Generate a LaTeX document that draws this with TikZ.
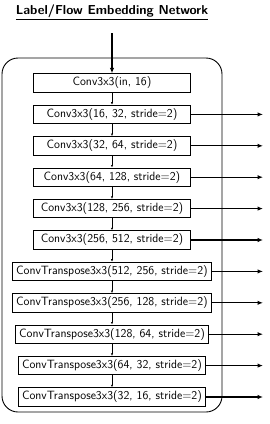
\documentclass[tikz,border=0pt]{standalone}
\usepackage{amsmath}
\usepackage{tikz}
\usetikzlibrary{arrows.meta}
\renewcommand{\familydefault}{\sfdefault}

\begin{document}
\begin{tikzpicture}[x=1pt,y=-1pt]
  \useasboundingbox (0,0) rectangle (270,424);
  \tikzset{layer/.style={draw,line width=0.9pt,minimum width=157pt,minimum height=18.5pt,inner xsep=4pt,inner ysep=1.5pt,font=\fontsize{12}{13}\selectfont},
    outarrow/.style={-{Latex[length=5.5pt,width=4.5pt]},line width=1.3pt},
    linkarrow/.style={-{Latex[length=2.5pt,width=2.2pt]},line width=0.6pt}}

% title
  \node[font=\fontsize{13}{15}\selectfont\bfseries] (title) at (112, 12) {\underline{Label/Flow Embedding Network}};

% outer frame
  \draw[line width=0.9pt, rounded corners=16pt] (2, 58) rectangle (222, 412);

% layers
  \node[layer] (c1) at (112, 83.0) {Conv3x3(in, 16)};
  \node[layer] (c2) at (112, 114.4) {Conv3x3(16, 32, stride=2)};
  \node[layer] (c3) at (112, 145.8) {Conv3x3(32, 64, stride=2)};
  \node[layer] (c4) at (112, 177.2) {Conv3x3(64, 128, stride=2)};
  \node[layer] (c5) at (112, 208.6) {Conv3x3(128, 256, stride=2)};
  \node[layer] (c6) at (112, 240.0) {Conv3x3(256, 512, stride=2)};
  \node[layer] (t1) at (112, 271.4) {ConvTranspose3x3(512, 256, stride=2)};
  \node[layer] (t2) at (112, 302.8) {ConvTranspose3x3(256, 128, stride=2)};
  \node[layer] (t3) at (112, 334.2) {ConvTranspose3x3(128, 64, stride=2)};
  \node[layer] (t4) at (112, 365.6) {ConvTranspose3x3(64, 32, stride=2)};
  \node[layer] (t5) at (112, 397.0) {ConvTranspose3x3(32, 16, stride=2)};

% input
  \coordinate (in) at (112, 33);
  \draw[outarrow] (in) -- (c1);

% links between layers
  \draw[linkarrow] (c1) -- (c2);
  \draw[linkarrow] (c2) -- (c3);
  \draw[linkarrow] (c3) -- (c4);
  \draw[linkarrow] (c4) -- (c5);
  \draw[linkarrow] (c5) -- (c6);
  \draw[linkarrow] (c6) -- (t1);
  \draw[linkarrow] (t1) -- (t2);
  \draw[linkarrow] (t2) -- (t3);
  \draw[linkarrow] (t3) -- (t4);
  \draw[linkarrow] (t4) -- (t5);

% outputs
  \coordinate (outx) at (263, 0);
  \draw[outarrow] (c2.east) -- (c2.east -| outx);
  \draw[outarrow] (c3.east) -- (c3.east -| outx);
  \draw[outarrow] (c4.east) -- (c4.east -| outx);
  \draw[outarrow] (c5.east) -- (c5.east -| outx);
  \draw[outarrow] (c6.east) -- (c6.east -| outx);
  \draw[outarrow] (t1.east) -- (t1.east -| outx);
  \draw[outarrow] (t2.east) -- (t2.east -| outx);
  \draw[outarrow] (t3.east) -- (t3.east -| outx);
  \draw[outarrow] (t4.east) -- (t4.east -| outx);
  \draw[outarrow] (t5.east) -- (t5.east -| outx);
\end{tikzpicture}
\end{document}
